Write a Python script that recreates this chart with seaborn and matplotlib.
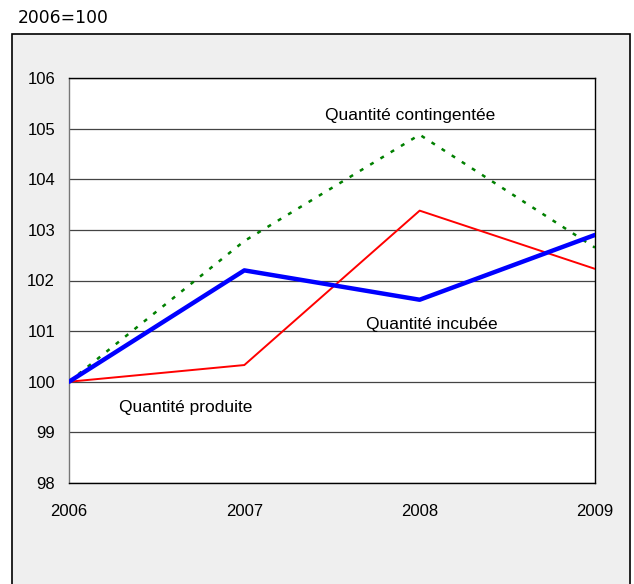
import matplotlib
matplotlib.use("Agg")
import matplotlib.pyplot as plt
import seaborn as sns
import pandas as pd
from matplotlib.patches import Rectangle

years = [2006, 2007, 2008, 2009]
incubee = [100.0, 102.2, 101.62, 102.9]
produite = [100.0, 100.33, 103.38, 102.23]
contingentee = [100.0, 102.78, 104.88, 102.65]
yticks = [98, 99, 100, 101, 102, 103, 104, 105, 106]

sns.set_theme(style="white")
plt.rcParams['font.family'] = ['Liberation Sans', 'DejaVu Sans']
plt.rcParams['text.color'] = 'black'

fig = plt.figure(figsize=(6.34, 5.84), dpi=100)
W, H = 634, 584
fig.patch.set_facecolor('white')
fig.patches.append(Rectangle((12 / W, -0.01), (630 - 12) / W, (584 - 34) / H + 0.01,
                             transform=fig.transFigure, facecolor='#efefef',
                             edgecolor='black', linewidth=1.2, zorder=-5))
fig.text(18 / W, 1 - 18 / H, "2006=100", family='DejaVu Sans', fontsize=12.3,
         va='center', ha='left', color='black')

ax = fig.add_axes([69 / W, 1 - 483 / H, (595 - 69) / W, (483 - 78) / H])
ax.set_zorder(2)
ax.set_facecolor('white')

df = pd.DataFrame({"year": years * 3,
                   "value": contingentee + produite + incubee,
                   "serie": ["contingentee"] * 4 + ["produite"] * 4 + ["incubee"] * 4})

sns.lineplot(data=df[df.serie == "contingentee"], x="year", y="value", ax=ax,
             color='#008000', linewidth=1.8, linestyle=(0, (1.6, 3.2)), zorder=3)
sns.lineplot(data=df[df.serie == "produite"], x="year", y="value", ax=ax,
             color='#ff0000', linewidth=1.4, zorder=4)
sns.lineplot(data=df[df.serie == "incubee"], x="year", y="value", ax=ax,
             color='#0000ff', linewidth=3.2, zorder=5)

ax.set_xlim(2006, 2009)
ax.set_ylim(98, 106)
ax.set_yticks(yticks)
ax.set_xticks(years)
ax.set_xticklabels([str(y) for y in years])
ax.grid(axis='y', color='#444444', linewidth=0.9)
ax.grid(axis='x', visible=False)
ax.set_axisbelow(True)
ax.set_xlabel("")
ax.set_ylabel("")
ax.tick_params(axis='both', length=0, labelsize=12, colors='black')
ax.tick_params(axis='y', pad=10)
ax.tick_params(axis='x', pad=15)
for s in ax.spines.values():
    s.set_color('black')
    s.set_linewidth(1.0)
ax.spines['left'].set_color('#777777')

ax.text(2007.945, 105.25, "Quantité contingentée", fontsize=12.5, ha='center', va='center')
ax.text(2008.07, 101.14, "Quantité incubée", fontsize=12.5, ha='center', va='center')
ax.text(2006.667, 99.5, "Quantité produite", fontsize=12.5, ha='center', va='center')

fig.savefig("out.png", dpi=100)
